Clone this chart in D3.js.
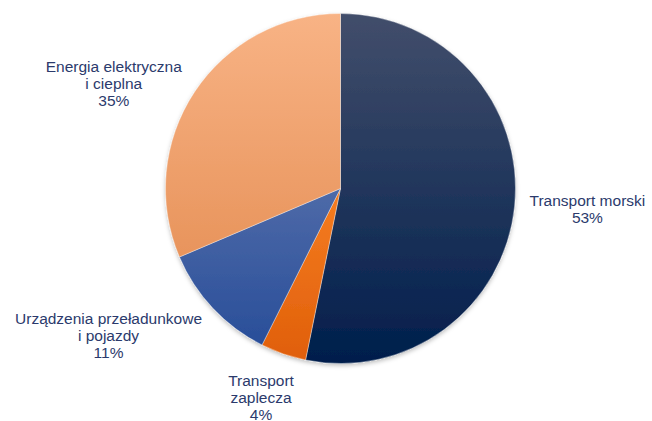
<!DOCTYPE html>
<html>
<head>
<meta charset="utf-8">
<script src="https://cdn.jsdelivr.net/npm/d3@7.9.0/dist/d3.min.js"></script>
<style>
  body { margin: 0; background: #fff; }
  text { font-family: "Liberation Sans", Arial, sans-serif; font-size: 15.5px; fill: #2b3a6c; }
</style>
</head>
<body>
<svg id="chart" width="652" height="421"></svg>
<script>
// slices, clockwise from 12 o'clock
const categories = ['Transport morski', 'Transport|zaplecza', 'Urządzenia przeładunkowe|i pojazdy', 'Energia elektryczna|i cieplna'];
const values = [53.2, 4.2, 11.2, 31.4];
const pctLabels = ['53%', '4%', '11%', '35%'];
const colorTop = ['#424e6b', '#f57d22', '#4e6aa8', '#f8b385'];
const colorBottom = ['#001e4c', '#e05f0a', '#294e99', '#e8945c'];

const svg = d3.select('#chart');
const cx = 340.5, cy = 188.5, radius = 175;

const defs = svg.append('defs');
values.forEach((v, i) => {
    const g = defs.append('linearGradient').attr('id', 'grad' + i)
        .attr('x1', 0).attr('y1', 0).attr('x2', 0).attr('y2', 1);
    g.append('stop').attr('offset', '0%').attr('stop-color', colorTop[i]);
    g.append('stop').attr('offset', '100%').attr('stop-color', colorBottom[i]);
});
const shadow = defs.append('filter').attr('id', 'shadow')
    .attr('x', '-10%').attr('y', '-10%').attr('width', '120%').attr('height', '120%');
shadow.append('feDropShadow').attr('dx', 0).attr('dy', 2).attr('stdDeviation', 2)
    .attr('flood-color', '#000').attr('flood-opacity', 0.25);

const pie = d3.pie().sort(null).value(d => d);
const arcs = pie(values);
const arc = d3.arc().innerRadius(0).outerRadius(radius);

const g = svg.append('g').attr('transform', `translate(${cx},${cy})`);
const slices = g.append('g').attr('filter', 'url(#shadow)');
slices.selectAll('path').data(arcs).enter().append('path')
    .attr('d', arc)
    .attr('fill', (d, i) => `url(#grad${i})`)
    .attr('stroke', '#fff')
    .attr('stroke-opacity', 0.5)
    .attr('stroke-width', 0.7);

// labels outside the slices, lines centred inside each block
const lineH = 17;
const labelR = 190;
arcs.forEach((d, i) => {
    const lines = categories[i].split('|').concat(pctLabels[i]);
    const a = (d.startAngle + d.endAngle) / 2;
    const sx = Math.sin(a), sy = -Math.cos(a);
    const px = sx * labelR, py = sy * labelR;
    const h = lines.length * lineH;

    const t = g.append('text').attr('text-anchor', 'middle');
    lines.forEach((ln, j) => {
        t.append('tspan').attr('x', 0).attr('y', (j - (lines.length - 1) / 2) * lineH)
            .attr('dy', '0.35em').text(ln);
    });
    const w = t.node().getBBox().width;

    let bx, by;
    if (sx > 0.5) { bx = px + w / 2; by = py + Math.max(0, sy) * h / 2; }
    else if (sx < -0.5) { bx = px - w / 2; by = py + Math.max(0, sy) * h / 2; }
    else { bx = px + sx * w * 0.8; by = py + sy * (h / 2 + 6); }
    t.attr('transform', `translate(${bx},${by})`);
});
</script>
</body>
</html>
